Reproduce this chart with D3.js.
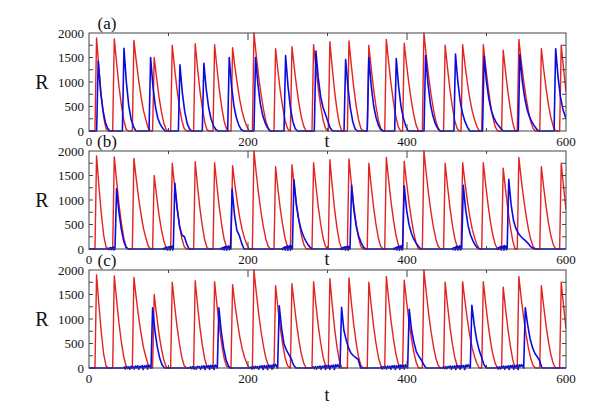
<!DOCTYPE html>
<html><head><meta charset="utf-8">
<script src="https://cdn.jsdelivr.net/npm/d3@7"></script>
<style>body{margin:0;background:#fff} svg{display:block} text{font-family:"Liberation Serif","Times New Roman",serif;fill:#111}</style>
</head><body><svg id="c" width="600" height="416"></svg>
<script>
// ---- data ----
const xTickLabels = [0, 200, 400, 600];
const yTickLabels = [0, 500, 1000, 1500, 2000];
const panelLabels = ["(a)", "(b)", "(c)"];
const xTitle = "t";
const yTitle = "R";
// each spike: [onset time, R values every 3 time units starting at the peak (onset+2), optional baseline jitter before onset]
const redSpikes = [
  [7.5,  [1900,1280,720,280,40,0]],
  [29.8, [1880,1380,900,520,220,30,0]],
  [54.5, [1850,1420,1030,700,420,230,60,0]],
  [80,   [1500,1090,700,400,170,30,0]],
  [102.7,[1750,1280,850,500,220,50,0]],
  [131.6,[1780,1270,820,460,180,20,0]],
  [156,  [1760,1280,840,480,200,40,0]],
  [178.6,[1700,1300,950,640,400,220,90,0]],
  [205.5,[2000,1530,1100,740,440,200,50,0]],
  [232.7,[1680,1220,810,480,210,50,0]],
  [253.3,[1720,1280,880,540,270,90,0]],
  [280.5,[1760,1280,850,500,220,50,0]],
  [301,  [1820,1280,800,420,140,0]],
  [325,  [1840,1340,890,520,230,50,0]],
  [350,  [1750,1280,850,500,220,50,0]],
  [372,  [1870,1390,950,590,290,90,0]],
  [394.5,[1790,1350,950,610,330,120,0]],
  [419.3,[2000,1530,1100,740,440,200,50,0]],
  [446,  [1750,1280,850,500,220,50,0]],
  [468,  [1760,1350,980,660,410,230,90,0]],
  [494,  [1760,1310,900,550,280,90,0]],
  [519,  [1650,1200,790,450,170,0]],
  [538.7,[1870,1420,1030,690,410,190,50,0]],
  [567,  [1680,1250,860,530,270,90,0]],
  [592,  [1750,1260,800]]
];
const blueSpikesA = [
  [9.6,  [1430,800,420,180,50,0]],
  [42,   [1690,1000,520,240,90,0]],
  [75.5, [1500,900,500,260,140,60,0]],
  [112.4,[1350,780,400,160,40,0]],
  [142.5,[1380,850,480,250,110,30,0]],
  [174.4,[1500,900,500,270,120,30,0]],
  [207.5,[1500,950,560,320,170,70,0]],
  [245.3,[1540,920,480,200,50,0]],
  [283.4,[1630,1080,700,480,340,200,60,0]],
  [320.8,[1460,880,460,190,40,0]],
  [350,  [1500,920,520,280,120,30,0]],
  [384.5,[1480,900,500,260,100,0]],
  [421.4,[1540,960,560,320,160,60,0]],
  [459,  [1570,1000,600,350,190,80,0]],
  [495,  [1520,1000,650,420,280,180,110,50,0]],
  [540,  [1560,1020,680,440,290,190,110,40,0]],
  [585,  [1680,1100,700,450,300,200]]
];
const blueSpikesB = [
  [32.7, [1230,750,400,160,30,0], [10,-10,20,0,30,-15,25,5,40,-20,35]],
  [106,  [1340,820,450,280,250,100,0], [10,-5,20,-10,30,0,40,-20,30,10,50,-25,45,15,60,-20]],
  [178,  [1220,700,380,280,120,0], [15,-10,25,0,35,-20,45,5,55,-25,40,20,65,-15,50]],
  [255.8,[1410,900,600,400,260,160,80,20,0], [10,-15,30,0,40,-20,50,10,60,-30,55,15,70,-25,60,20]],
  [328.3,[1300,780,450,260,130,40,0], [10,-10,25,-5,35,0,45,-20,40,15,55,-25,50,10]],
  [394.5,[1290,800,500,320,200,120,50,0], [15,-10,20,0,35,-20,45,5,60,-25,50,20,70,-20]],
  [468.8,[1300,800,480,290,170,80,20,0], [10,-15,25,0,30,-20,45,10,55,-25,50,15,65,-20,55]],
  [526,  [1420,900,580,420,320,260,210,170,120,60,20,0], [15,-10,25,-5,40,0,50,-20,45,15,60,-25,70,10,55,-15]]
];
const blueSpikesC = [
  [78,   [1230,750,420,200,60,0], [20,-20,30,-10,25,-25,35,0,30,-20,40,5,45,-25,35,10,50,-30,45,15,55,-20,60,30]],
  [161.4,[1230,740,400,170,40,0], [25,-15,30,-20,20,-25,35,5,30,-25,40,0,45,-30,40,15,50,-25,55,20,50,-30,60,35]],
  [237.3,[1270,800,490,370,280,190,60,0], [20,-20,30,-15,35,0,30,-25,40,10,45,-30,50,5,45,-30,60,20,55,-25,70,30,75,40]],
  [315.7,[1240,760,560,400,300,250,210,170,0], [25,-15,30,-20,30,0,40,-25,35,10,45,-30,50,5,55,-25,50,20,60,-30,65,25,70,30]],
  [400.8,[1200,760,520,330,240,170,80,0], [20,-20,25,-10,30,-20,40,0,35,-25,45,10,50,-30,45,15,55,-25,60,20,55,-20,65,30]],
  [479.6,[1280,880,580,370,230,80,0], [25,-15,30,-15,30,5,40,-25,35,0,45,-30,50,10,45,-25,55,20,50,-30,60,25,65,35]],
  [546.8,[1230,880,600,420,300,230,150,0], [20,-20,25,-20,30,0,40,-25,35,5,45,-30,50,15,55,-25,50,20,60,-30,65,30,70,40]]
];
const blueSets = [blueSpikesA, blueSpikesB, blueSpikesC];
const jitterStep = [0.8, 0.8, 1.4];

// ---- build vertex lists ----
function toPoints(spikes, step){
  const pts = [[0,0]];
  spikes.forEach(([t0, vals, pre]) => {
    if (pre) {
      const n = pre.length;
      pts.push([t0 - (n + 1) * step, 0]);
      pre.forEach((v, k) => pts.push([t0 - (n - k) * step, v]));
    }
    pts.push([t0, 0]);
    vals.forEach((v, k) => pts.push([t0 + 2 + 3*k, v]));
  });
  if (pts[pts.length-1][1] === 0) pts.push([600, 0]);
  return pts;
}

const svg = d3.select("#c");
const left = 89, right = 566, ph = 98;
const tops = [33, 151, 270];
const x = d3.scaleLinear().domain([0, 600]).range([left, right]);
const defs = svg.append("defs");

tops.forEach((top, i) => {
  const y = d3.scaleLinear().domain([0, 2000]).range([top + ph, top]);
  const g = svg.append("g");
  const lineFn = d3.line().x(d => x(d[0])).y(d => y(d[1]));
  defs.append("clipPath").attr("id","clip"+i).append("rect")
    .attr("x", left).attr("y", top - 1).attr("width", right-left).attr("height", ph + 4);
  const data = g.append("g").attr("clip-path", "url(#clip"+i+")");
  data.append("path").datum(toPoints(redSpikes, 1))
    .attr("d", lineFn).attr("fill","none").attr("stroke","#e32222").attr("stroke-width",1.4).attr("stroke-linejoin","round");
  data.append("path").datum(toPoints(blueSets[i], jitterStep[i]))
    .attr("d", lineFn).attr("fill","none").attr("stroke","#0b0bdf").attr("stroke-width",1.6).attr("stroke-linejoin","round");

  // frame
  g.append("rect").attr("x", left).attr("y", top).attr("width", right-left).attr("height", ph)
    .attr("fill","none").attr("stroke","#444").attr("stroke-width",1);
  // inward ticks
  const xMinor = d3.range(0, 601, 100);
  const yMinor = d3.range(0, 2001, 250);
  const ticks = g.append("g").attr("stroke","#444").attr("stroke-width",1);
  xMinor.forEach(t => {
    const len = (t % 200 === 0) ? 7 : 3;
    if (t === 0 || t === 600) return;
    ticks.append("line").attr("x1", x(t)).attr("x2", x(t)).attr("y1", top).attr("y2", top + len);
    ticks.append("line").attr("x1", x(t)).attr("x2", x(t)).attr("y1", top + ph).attr("y2", top + ph - len);
  });
  yMinor.forEach(v => {
    if (v === 0 || v === 2000) return;
    ticks.append("line").attr("x1", left).attr("x2", left + 4).attr("y1", y(v)).attr("y2", y(v));
    ticks.append("line").attr("x1", right).attr("x2", right - 4).attr("y1", y(v)).attr("y2", y(v));
  });
  // labels
  yTickLabels.forEach(v => {
    g.append("text").attr("x", left - 5).attr("y", y(v)).attr("dy","0.35em")
      .attr("text-anchor","end").attr("font-size", 13).text(v);
  });
  xTickLabels.forEach(t => {
    g.append("text").attr("x", x(t)).attr("y", top + ph + 10).attr("dy","0.35em")
      .attr("text-anchor","middle").attr("font-size", 13).text(t);
  });
  g.append("text").attr("x", 327).attr("y", i === 2 ? top + ph + 27 : top + ph + 10).attr("dy","0.35em")
    .attr("text-anchor","middle").attr("font-size", 18).text(xTitle);
  g.append("text").attr("x", 42).attr("y", top + ph/2).attr("dy","0.35em")
    .attr("text-anchor","middle").attr("font-size", 20).text(yTitle);
  g.append("text").attr("x", 107).attr("y", top - 10).attr("dy","0.35em")
    .attr("text-anchor","middle").attr("font-size", 17).text(panelLabels[i]);
});
</script></body></html>
